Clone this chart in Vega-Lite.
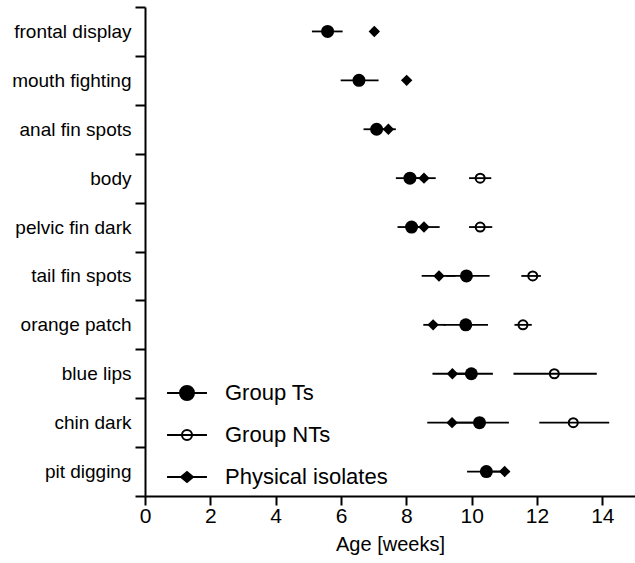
{
  "$schema": "https://vega.github.io/schema/vega-lite/v6.json",
  "width": 490,
  "height": 489,
  "autosize": "none",
  "padding": {"left": 145, "top": 7, "right": 0, "bottom": 67},
  "background": "white",
  "config": {
    "view": {"stroke": null},
    "font": "Liberation Sans",
    "axis": {"domainColor": "black", "domainWidth": 2, "tickColor": "black", "tickWidth": 2, "labelColor": "black", "titleColor": "black", "grid": false}
  },
  "data": {
    "values": [
      {"behavior": "frontal display", "group": "Group Ts", "mean": 5.59, "lo": 5.11, "hi": 6.05},
      {"behavior": "frontal display", "group": "Physical isolates", "mean": 7.02, "lo": null, "hi": null},
      {"behavior": "mouth fighting", "group": "Group Ts", "mean": 6.55, "lo": 5.99, "hi": 7.15},
      {"behavior": "mouth fighting", "group": "Physical isolates", "mean": 8.01, "lo": null, "hi": null},
      {"behavior": "anal fin spots", "group": "Group Ts", "mean": 7.09, "lo": 6.69, "hi": 7.45},
      {"behavior": "anal fin spots", "group": "Physical isolates", "mean": 7.45, "lo": 7.2, "hi": 7.68},
      {"behavior": "body", "group": "Group Ts", "mean": 8.11, "lo": 7.68, "hi": 8.5},
      {"behavior": "body", "group": "Physical isolates", "mean": 8.54, "lo": 8.2, "hi": 8.9},
      {"behavior": "body", "group": "Group NTs", "mean": 10.26, "lo": 9.92, "hi": 10.6},
      {"behavior": "pelvic fin dark", "group": "Group Ts", "mean": 8.16, "lo": 7.73, "hi": 8.55},
      {"behavior": "pelvic fin dark", "group": "Physical isolates", "mean": 8.54, "lo": 8.1, "hi": 9.02},
      {"behavior": "pelvic fin dark", "group": "Group NTs", "mean": 10.26, "lo": 9.92, "hi": 10.63},
      {"behavior": "tail fin spots", "group": "Physical isolates", "mean": 9.0, "lo": 8.47, "hi": 9.5},
      {"behavior": "tail fin spots", "group": "Group Ts", "mean": 9.84, "lo": 9.2, "hi": 10.55},
      {"behavior": "tail fin spots", "group": "Group NTs", "mean": 11.87, "lo": 11.52, "hi": 12.12},
      {"behavior": "orange patch", "group": "Physical isolates", "mean": 8.82, "lo": 8.52, "hi": 9.2},
      {"behavior": "orange patch", "group": "Group Ts", "mean": 9.82, "lo": 9.15, "hi": 10.5},
      {"behavior": "orange patch", "group": "Group NTs", "mean": 11.57, "lo": 11.31, "hi": 11.84},
      {"behavior": "blue lips", "group": "Physical isolates", "mean": 9.41, "lo": 8.8, "hi": 10.0},
      {"behavior": "blue lips", "group": "Group Ts", "mean": 9.99, "lo": 9.35, "hi": 10.65},
      {"behavior": "blue lips", "group": "Group NTs", "mean": 12.53, "lo": 11.28, "hi": 13.83},
      {"behavior": "chin dark", "group": "Physical isolates", "mean": 9.4, "lo": 8.64, "hi": 10.1},
      {"behavior": "chin dark", "group": "Group Ts", "mean": 10.24, "lo": 9.4, "hi": 11.14},
      {"behavior": "chin dark", "group": "Group NTs", "mean": 13.11, "lo": 12.07, "hi": 14.21},
      {"behavior": "pit digging", "group": "Group Ts", "mean": 10.45, "lo": 9.86, "hi": 11.0},
      {"behavior": "pit digging", "group": "Physical isolates", "mean": 11.01, "lo": 10.6, "hi": 11.16}
    ]
  },
  "encoding": {
    "y": {
      "field": "behavior",
      "type": "nominal",
      "sort": ["frontal display", "mouth fighting", "anal fin spots", "body", "pelvic fin dark", "tail fin spots", "orange patch", "blue lips", "chin dark", "pit digging"],
      "scale": {"type": "band", "paddingInner": 0, "paddingOuter": 0},
      "axis": {"title": null, "tickBand": "extent", "tickSize": 10, "labelPadding": 4, "labelFontSize": 19, "labelLimit": 200}
    }
  },
  "layer": [
    {
      "mark": {"type": "point", "filled": true, "opacity": 0},
      "encoding": {
        "x": {"field": "mean", "type": "quantitative", "scale": {"domain": [0, 15], "nice": false, "zero": false},
          "axis": {
            "title": "Age [weeks]",
            "values": [0, 1, 2, 3, 4, 5, 6, 7, 8, 9, 10, 11, 12, 13, 14, 15],
            "labelExpr": "datum.value % 2 === 0 ? datum.label : ''",
            "tickSize": {"condition": {"test": "datum.value % 2 === 0", "value": 9}, "value": 5},
            "labelFontSize": 21,
            "labelPadding": 0,
            "labelFlush": false,
            "titleFontSize": 20,
            "titleFontWeight": "normal",
            "titlePadding": 8
          }
        },
        "shape": {
          "field": "group", "type": "nominal",
          "scale": {
            "domain": ["Group Ts", "Group NTs", "Physical isolates"],
            "range": [
              "M-2.85,0H2.85M-1,0A1,1,0,1,0,1,0A1,1,0,1,0,-1,0Z",
              "M-2.85,0H2.85M-0.72,0A0.72,0.72,0,1,0,0.72,0A0.72,0.72,0,1,0,-0.72,0Z",
              "M-2.85,0H2.85M-0.85,0L0,-0.72L0.85,0L0,0.72Z"
            ]
          },
          "legend": {
            "title": null,
            "orient": "none",
            "legendX": 31,
            "legendY": 375,
            "padding": 0,
            "symbolSize": 196,
            "symbolStrokeColor": "black",
            "symbolStrokeWidth": 2,
            "symbolOpacity": 1,
            "labelFontSize": 22,
            "labelColor": "black",
            "labelOffset": 27,
            "rowPadding": 20,
            "labelLimit": 300,
            "encode": {"symbols": {"update": {"stroke": {"value": "black"}, "strokeWidth": {"value": 2}, "opacity": {"value": 1}}}}
          }
        },
        "fill": {
          "field": "group", "type": "nominal",
          "scale": {"domain": ["Group Ts", "Group NTs", "Physical isolates"], "range": ["black", "white", "black"]},
          "legend": {
            "title": null,
            "orient": "none",
            "legendX": 31,
            "legendY": 375,
            "padding": 0,
            "symbolSize": 196,
            "symbolStrokeColor": "black",
            "symbolStrokeWidth": 2,
            "symbolOpacity": 1,
            "labelFontSize": 22,
            "labelColor": "black",
            "labelOffset": 27,
            "rowPadding": 20,
            "labelLimit": 300,
            "encode": {"symbols": {"update": {"stroke": {"value": "black"}, "strokeWidth": {"value": 2}, "opacity": {"value": 1}}}}
          }
        }
      }
    },
    {
      "transform": [{"filter": "datum.group === 'Group Ts'"}],
      "mark": {"type": "point", "shape": "circle", "filled": true, "color": "black", "opacity": 1, "size": 169},
      "encoding": {"x": {"field": "mean", "type": "quantitative"}}
    },
    {
      "transform": [{"filter": "datum.group === 'Group NTs'"}],
      "mark": {"type": "point", "shape": "circle", "filled": true, "fill": "white", "stroke": "black", "strokeWidth": 2, "opacity": 1, "size": 81},
      "encoding": {"x": {"field": "mean", "type": "quantitative"}}
    },
    {
      "transform": [{"filter": "datum.group === 'Physical isolates'"}],
      "mark": {"type": "point", "shape": "diamond", "filled": true, "color": "black", "opacity": 1, "size": 130},
      "encoding": {"x": {"field": "mean", "type": "quantitative"}}
    },
    {
      "transform": [{"filter": "datum.lo != null"}],
      "mark": {"type": "rule", "color": "black", "strokeWidth": 1.8},
      "encoding": {
        "x": {"field": "lo", "type": "quantitative"},
        "x2": {"field": "hi"}
      }
    }
  ]
}
